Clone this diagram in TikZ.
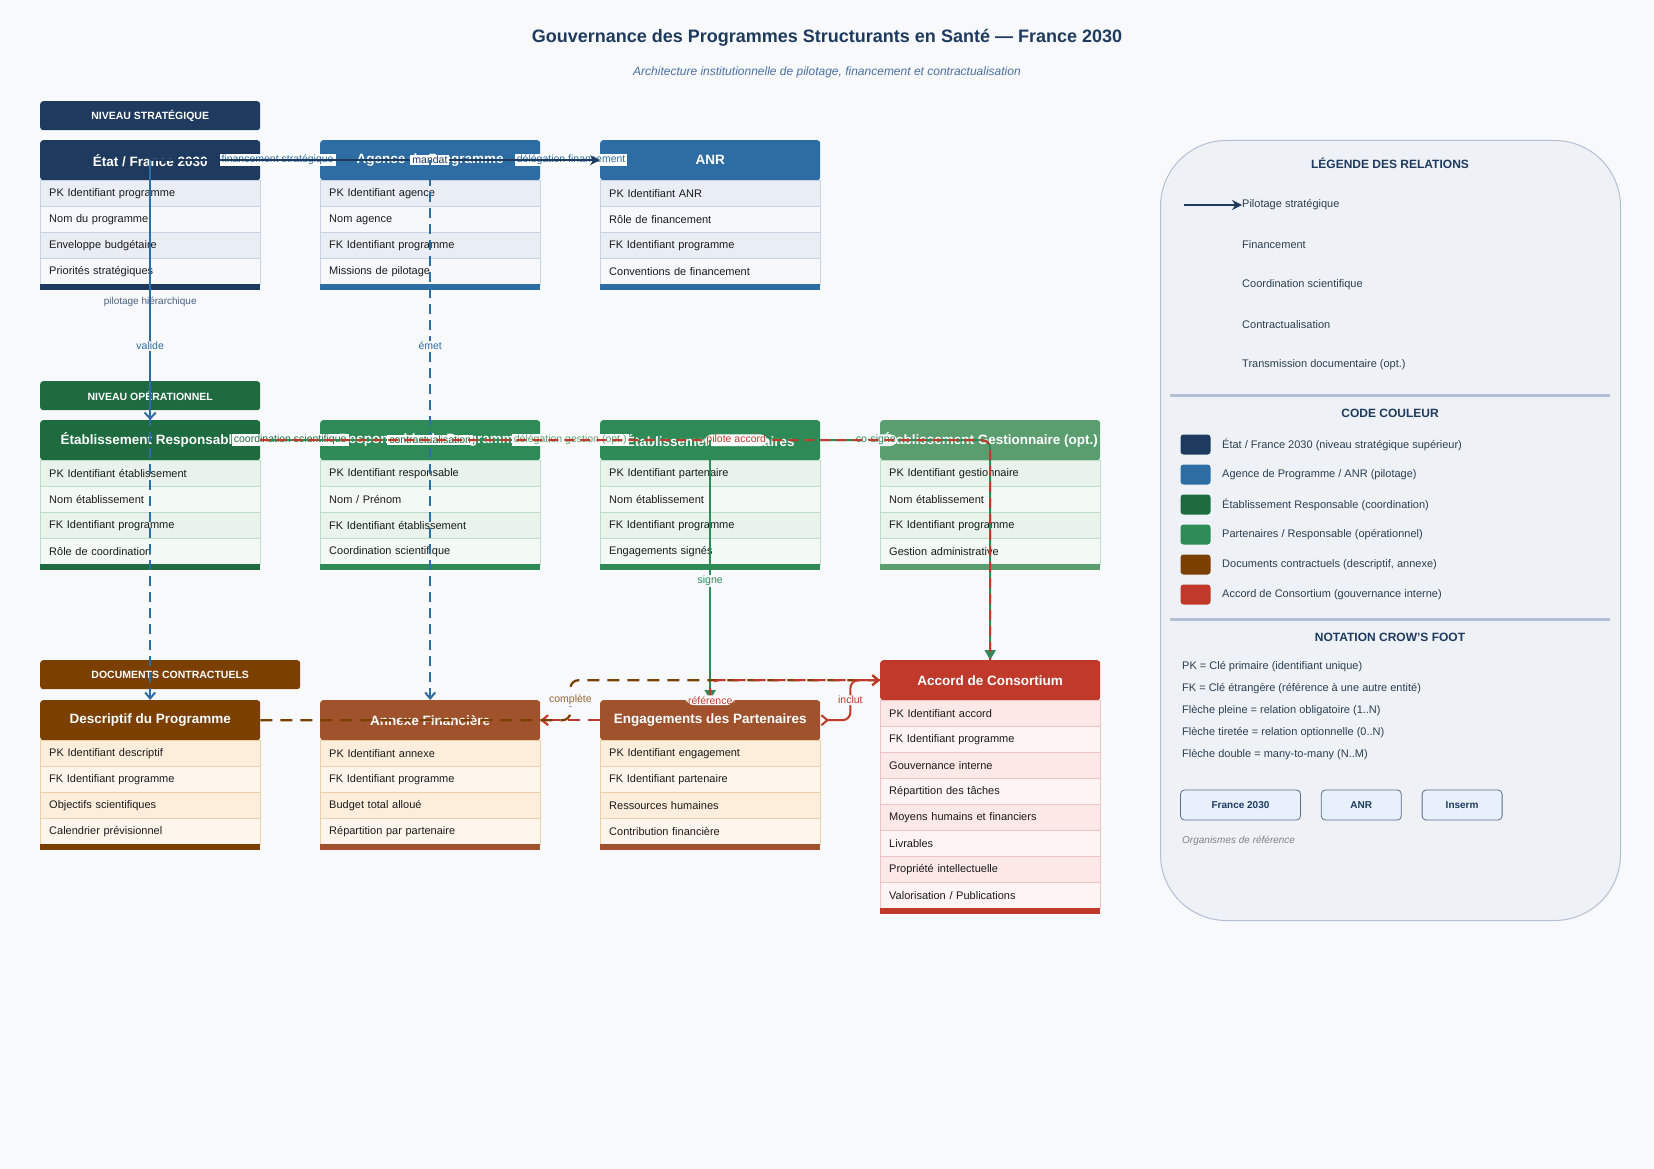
\documentclass[tikz,border=0pt]{standalone}
\usepackage{fontspec}
\setmainfont{Liberation Sans}
\usepackage{xcolor}
\usetikzlibrary{arrows.meta,positioning,calc}

\definecolor{fond}{HTML}{F7F9FC}
\definecolor{marine}{HTML}{1E3A5F}
\definecolor{bleu}{HTML}{2E6DA4}
\definecolor{vertfonce}{HTML}{1E6B3F}
\definecolor{vert}{HTML}{2E8B57}
\definecolor{vertpale}{HTML}{5A9E6F}
\definecolor{brun}{HTML}{7B3F00}
\definecolor{sienne}{HTML}{A0522D}
\definecolor{rouge}{HTML}{C0392B}
\definecolor{encre}{HTML}{1A1A1A}
\definecolor{ardoise}{HTML}{2C3E50}
\definecolor{legfond}{HTML}{EEF2F7}
\definecolor{legtrait}{HTML}{B4BED4}
\definecolor{boutonfond}{HTML}{E8F0FB}
\definecolor{boutontrait}{HTML}{5A6E8C}
\definecolor{soustitre}{HTML}{4A6FA5}
\definecolor{cielclair}{HTML}{E9EEF5}
\definecolor{cielpale}{HTML}{F6F8FB}
\definecolor{cieltrait}{HTML}{C9D3E3}
\definecolor{mentheclair}{HTML}{E7F3EB}
\definecolor{menthepale}{HTML}{F3F9F5}
\definecolor{menthetrait}{HTML}{BEDDC8}
\definecolor{pecheclair}{HTML}{FDEEDC}
\definecolor{pechepale}{HTML}{FEF6EC}
\definecolor{pechetrait}{HTML}{EBD0AA}
\definecolor{roseclair}{HTML}{FDE8E8}
\definecolor{rosepale}{HTML}{FEF4F4}
\definecolor{rosetrait}{HTML}{EFC3C3}

% entite : nom, position, titre, couleur, famille, nb champs, champs
\newcommand{\entite}[7]{%
  \node[entete, fill=#4] (#1) at #2 {#3};
  \foreach \ch [count=\k from 0] in {#7}{%
    \ifodd\k \def\teinte{#5pale}\else\def\teinte{#5clair}\fi
    \node[champ, fill=\teinte, draw=#5trait] at ($(#1.south west)+(0,26*\k)$) {\ch};
  }
  \fill[#4] ($(#1.south west)+(0,26*#6)$) rectangle ++(220,6);
}

\begin{document}
\begin{tikzpicture}[
    x=1pt, y=-1pt,
    entete/.style={rectangle, rounded corners=3pt, minimum width=220pt, minimum height=40pt, inner sep=0pt, anchor=north west, text=white, font=\fontsize{13.5}{16}\selectfont\bfseries},
    champ/.style={rectangle, anchor=north west, text width=202pt, inner xsep=9pt, inner ysep=0pt, minimum height=26pt, align=left, text=encre, font=\fontsize{11}{13}\selectfont},
    niveau/.style={rectangle, rounded corners=3pt, minimum height=29pt, inner sep=0pt, anchor=north west, text=white, font=\fontsize{10.5}{12}\selectfont\bfseries},
    lab/.style={font=\fontsize{10.5}{12}\selectfont, inner xsep=2pt, inner ysep=1pt, fill=white},
    pil/.style={draw=marine, line width=2pt, -{Stealth[length=10pt,width=10pt]}},
    fin/.style={draw=bleu, line width=2pt},
    hier/.style={draw=bleu, line width=2pt, -{Straight Barb[length=6pt,width=11pt]}},
    tirete/.style={line width=2pt, dash pattern=on 10pt off 6pt, -{Straight Barb[length=6pt,width=10pt]}},
    doc/.style={line width=2.2pt, dash pattern=on 12pt off 8pt, -{Straight Barb[length=6pt,width=10pt]}, rounded corners=8pt},
    legtxt/.style={anchor=west, inner sep=0pt, text=ardoise, font=\fontsize{11}{13}\selectfont},
    legtitre/.style={inner sep=0pt, text=marine, font=\fontsize{12}{14}\selectfont\bfseries},
    pastille/.style={rectangle, rounded corners=3pt, minimum width=30pt, minimum height=20pt, inner sep=0pt},
    bouton/.style={rectangle, rounded corners=4pt, draw=boutontrait, fill=boutonfond, line width=0.8pt, minimum height=30pt, inner sep=0pt, text=marine, font=\fontsize{10}{12}\selectfont\bfseries}
]
% Fond
\fill[fond] (0,0) rectangle (1654,1169);
\useasboundingbox (0,0) rectangle (1654,1169);

% Titre
\node[text=marine, font=\fontsize{18}{22}\selectfont\bfseries] (titre) at (827,38) {Gouvernance des Programmes Structurants en Santé — France 2030};
\node[text=soustitre, font=\fontsize{12}{14}\selectfont\itshape] (soustitre) at (827,72) {Architecture institutionnelle de pilotage, financement et contractualisation};

% Niveau strategique
\node[niveau, fill=marine, minimum width=220pt] (nivstrat) at (40,101) {NIVEAU STRATÉGIQUE};
\entite{etat}{(40,140)}{État / France 2030}{marine}{ciel}{4}{PK Identifiant programme, Nom du programme, Enveloppe budgétaire, Priorités stratégiques}
\entite{agence}{(320,140)}{Agence de Programme}{bleu}{ciel}{4}{PK Identifiant agence, Nom agence, FK Identifiant programme, Missions de pilotage}
\entite{anr}{(600,140)}{ANR}{bleu}{ciel}{4}{PK Identifiant ANR, Rôle de financement, FK Identifiant programme, Conventions de financement}

% Niveau operationnel
\node[niveau, fill=vertfonce, minimum width=220pt] (nivop) at (40,381) {NIVEAU OPÉRATIONNEL};
\entite{etabresp}{(40,420)}{Établissement Responsable}{vertfonce}{menthe}{4}{PK Identifiant établissement, Nom établissement, FK Identifiant programme, Rôle de coordination}
\entite{respprog}{(320,420)}{Responsable de Programme}{vert}{menthe}{4}{PK Identifiant responsable, Nom / Prénom, FK Identifiant établissement, Coordination scientifique}
\entite{partenaires}{(600,420)}{Établissement Partenaires}{vert}{menthe}{4}{PK Identifiant partenaire, Nom établissement, FK Identifiant programme, Engagements signés}
\entite{gestion}{(880,420)}{Établissement Gestionnaire (opt.)}{vertpale}{menthe}{4}{PK Identifiant gestionnaire, Nom établissement, FK Identifiant programme, Gestion administrative}

% Documents contractuels
\node[niveau, fill=brun, minimum width=260pt] (nivdoc) at (40,660) {DOCUMENTS CONTRACTUELS};
\entite{descriptif}{(40,700)}{Descriptif du Programme}{brun}{peche}{4}{PK Identifiant descriptif, FK Identifiant programme, Objectifs scientifiques, Calendrier prévisionnel}
\entite{annexe}{(320,700)}{Annexe Financière}{sienne}{peche}{4}{PK Identifiant annexe, FK Identifiant programme, Budget total alloué, Répartition par partenaire}
\entite{engag}{(600,700)}{Engagements des Partenaires}{sienne}{peche}{4}{PK Identifiant engagement, FK Identifiant partenaire, Ressources humaines, Contribution financière}
\entite{accord}{(880,660)}{Accord de Consortium}{rouge}{rose}{8}{PK Identifiant accord, FK Identifiant programme, Gouvernance interne, Répartition des tâches, Moyens humains et financiers, Livrables, Propriété intellectuelle, Valorisation / Publications}

% Relations strategiques
\draw[fin] (etat.center) -- node[lab, text=bleu, pos=.75] {financement stratégique} (agence.west);
\draw[fin] (agence.center) -- node[lab, text=bleu, pos=.83] {délégation financement} (anr.west);
\draw[pil] (etat.center) -- node[lab, text=marine, pos=.622] {mandat} (anr.west);

% Relations verticales
\draw[hier] (etat.center) -- node[pos=.545, font=\fontsize{10}{12}\selectfont, text=marine!80] {pilotage hiérarchique} (etabresp.north);
\draw[tirete, draw=bleu] (etat.center) -- node[lab, fill=fond, text=bleu, pos=.344] {valide} (descriptif.north);
\draw[tirete, draw=bleu] (agence.center) -- node[lab, fill=fond, text=bleu, pos=.344] {émet} (annexe.north);

% Relations operationnelles
\draw[draw=vertfonce, line width=2pt] (etabresp.east) -- node[lab, text=vertfonce] {coordination scientifique} (respprog.west);
\draw[draw=vert, line width=2pt] (etabresp.east) -- node[lab, text=vertfonce] {contractualisation} (partenaires.west);
\draw[draw=vertpale, line width=2pt, dash pattern=on 10pt off 6pt] (etabresp.east) -- node[lab, text=vertpale] {délégation gestion (opt.)} (gestion.west);
\draw[draw=vert, line width=2pt, rounded corners=8pt, -{Triangle[length=10pt,width=11pt]}] (partenaires.east) -| node[lab, fill=fond, text=vert, pos=.163] {co-signe} (accord.north);
\draw[draw=rouge, line width=2pt, dash pattern=on 10pt off 6pt, rounded corners=8pt] (etabresp.east) -| node[lab, text=rouge, pos=.326] {pilote accord} (accord.north);
\draw[draw=vert, line width=2pt, -{Triangle[length=10pt,width=11pt]}] (partenaires.center) -- node[lab, fill=fond, text=vert, pos=.542] {signe} (engag.north);

% Relations documentaires
\draw[doc, draw=rouge] (engag.west) -- (annexe.east);
\draw[doc, draw=brun] (descriptif.east) -- ++(310,0) |- node[lab, fill=fond, text=brun!80, pos=.25] {complète} (accord.west);
\draw[doc, draw=rouge, line width=2pt] (engag.center) |- node[lab, text=rouge, pos=.25] {référence} (accord.west);
\draw[draw=rouge, line width=2pt, rounded corners=8pt, {Straight Barb[reversed,length=6pt,width=10pt]}-] (engag.east) -- ++(30,0) |- node[lab, fill=fond, text=rouge, pos=.25] {inclut} (accord.west);

% Legende
\node[rectangle, rounded corners=66pt, draw=legtrait, fill=legfond, line width=1pt, minimum width=460pt, minimum height=780pt, anchor=north west] (legende) at (1160,140) {};
\node[legtitre] (legrel) at (1390,163.5) {LÉGENDE DES RELATIONS};
\foreach \t [count=\k from 0] in {Pilotage stratégique, Financement, Coordination scientifique, Contractualisation, Transmission documentaire (opt.)}
  \node[legtxt] (rel\k) at (1242,205+40*\k) {\t};
\coordinate (fleche) at (1184,205);
\draw[pil] (fleche) -- (rel0.west);
\draw[legtrait, line width=3pt] (1170,395) -- (1610,395);

\node[legtitre] (legcoul) at (1390,413.5) {CODE COULEUR};
\foreach \c/\t [count=\k from 0] in {marine/{État / France 2030 (niveau stratégique supérieur)}, bleu/{Agence de Programme / ANR (pilotage)}, vertfonce/{Établissement Responsable (coordination)}, vert/{Partenaires / Responsable (opérationnel)}, brun/{Documents contractuels (descriptif, annexe)}, rouge/{Accord de Consortium (gouvernance interne)}}{
  \node[pastille, fill=\c] (pas\k) at (1195.5,444.5+30*\k) {};
  \node[legtxt] at (1222,444.5+30*\k) {\t};
}
\draw[legtrait, line width=3pt] (1170,619) -- (1610,619);

\node[legtitre] (legnot) at (1390,637.7) {NOTATION CROW'S FOOT};
\foreach \t [count=\k from 0] in {PK = Clé primaire (identifiant unique), FK = Clé étrangère (référence à une autre entité), Flèche pleine = relation obligatoire (1..N), Flèche tiretée = relation optionnelle (0..N), Flèche double = many-to-many (N..M)}
  \node[legtxt] (not\k) at (1182,667+22*\k) {\t};

\node[bouton, minimum width=120pt] (bfrance) at (1240.5,805) {France 2030};
\node[bouton, minimum width=80pt, right=20pt of bfrance] (banr) {ANR};
\node[bouton, minimum width=80pt, right=20pt of banr] (binserm) {Inserm};
\node[legtxt, text=gray, font=\fontsize{10}{12}\selectfont\itshape] (organismes) at (1182,841) {Organismes de référence};
\end{tikzpicture}
\end{document}
